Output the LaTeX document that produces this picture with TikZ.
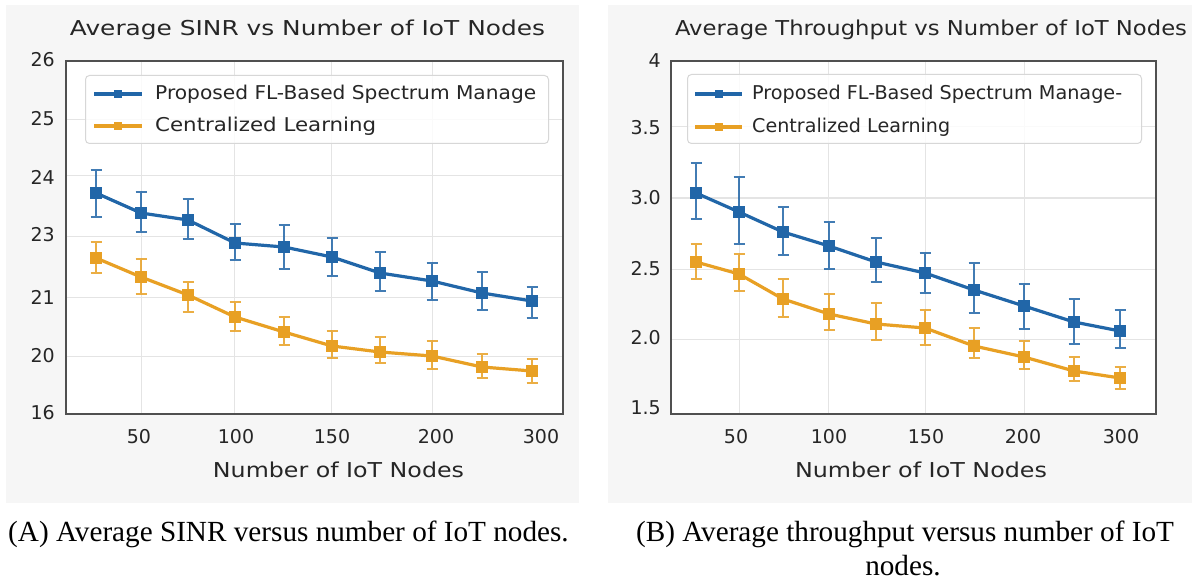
\documentclass[tikz,border=0pt]{standalone}
\usepackage{fontspec}
\usepackage{graphicx}
\setmainfont{Liberation Serif}
\newfontfamily\plotfont{DejaVu Sans}

\definecolor{flblue}{RGB}{33,102,168}
\definecolor{clorange}{RGB}{232,160,36}
\definecolor{panelbg}{RGB}{246,246,246}
\definecolor{gridgray}{RGB}{228,228,228}
\definecolor{framegray}{RGB}{80,80,80}
\definecolor{legendgray}{RGB}{215,215,215}
\definecolor{inkgray}{RGB}{38,38,38}

% stretch a text horizontally to a given width, keeping its height
\newcommand{\fitto}[2]{\resizebox{#1}{\height}{#2}}

\begin{document}
\begin{tikzpicture}[x=1pt,y=-1pt,
  panel/.style={fill=panelbg,draw=none},
  plotarea/.style={fill=white,draw=none},
  axisframe/.style={draw=framegray,line width=1.6pt},
  gridline/.style={draw=gridgray,line width=1pt},
  ticklabel/.style={font=\plotfont\fontsize{19}{22}\selectfont,text=inkgray,inner sep=0pt},
  plottitle/.style={font=\plotfont\fontsize{20.5}{24}\selectfont,text=inkgray,inner sep=0pt},
  axistitle/.style={font=\plotfont\fontsize{20.5}{24}\selectfont,text=inkgray,inner sep=0pt},
  legendtext/.style={font=\plotfont\fontsize{19}{22}\selectfont,text=inkgray,inner sep=0pt,anchor=west},
  legendbox/.style={draw=legendgray,fill=white,fill opacity=0.85,line width=1pt,rounded corners=4pt},
  caption/.style={font=\fontsize{29.2}{34}\selectfont,text=black,inner sep=0pt},
  dataline/.style={line width=3.2pt,line join=round},
  errbar/.style={line width=1.8pt,opacity=0.85},
  marker/.style={rectangle,minimum size=12pt,inner sep=0pt,draw=none},
]
\useasboundingbox (0,0) rectangle (1192,583);
\fill[white] (0,0) rectangle (1192,583);

% ---------------- panel backgrounds ----------------
\fill[panel] (6,5) rectangle (579,503);
\fill[panel] (608,5) rectangle (1192,503);
\fill[plotarea] (66,61) rectangle (563,414);
\fill[plotarea] (671,61) rectangle (1156,414);

% ---------------- left panel: SINR ----------------
\foreach \gx in {141,234,331,432} \draw[gridline] (\gx,61) -- (\gx,414);
\foreach \gy in {120,176,236,297,356} \draw[gridline] (66,\gy) -- (563,\gy);
\draw[axisframe] (66,61) rectangle (563,414);

\node[plottitle] (titleA) at (307.5,30) {\fitto{475pt}{Average SINR vs Number of IoT Nodes}};

\foreach \lab/\ty [count=\k] in {26/60,25/119,24/177,23/235,21/297,20/356,16/413}
  \node[ticklabel,anchor=east] (ytA\k) at (55,\ty) {\lab};
\foreach \lab/\tx [count=\k] in {50/139,100/236,150/332,200/436,300/541}
  \node[ticklabel] (xtA\k) at (\tx,437) {\lab};
\node[axistitle] (xlabA) at (338.5,470) {\fitto{251pt}{Number of IoT Nodes}};

% legend
\node[legendbox,minimum width=463pt,minimum height=68pt,anchor=north west] (legA) at (85,75) {};
\coordinate (legAb1) at (94,94);  \coordinate (legAb2) at (142,94);
\coordinate (legAo1) at (94,126); \coordinate (legAo2) at (142,126);
\draw[dataline,flblue] (legAb1) -- (legAb2);
\node[marker,fill=flblue,minimum size=8pt] (legAbm) at (118,94) {};
\draw[dataline,clorange] (legAo1) -- (legAo2);
\node[marker,fill=clorange,minimum size=8pt] (legAom) at (118,126) {};
\node[legendtext] (legAbt) at (155,94) {\fitto{381pt}{Proposed FL-Based Spectrum Manage}};
\node[legendtext] (legAot) at (155,126) {\fitto{221pt}{Centralized Learning}};

% blue series (FL-based)
\foreach \px/\py/\pt/\pb [count=\i] in
  {96/193/170/217,141/213/192/232,188/220/199/239,235/243/224/260,284/247/225/269,
   332/257/238/276,380/273/252/291,432/281/263/300,482/293/272/310,532/301/287/318}{
  \coordinate (ba\i) at (\px,\py);
  \draw[errbar,flblue] ({\px-5.5},\pt) -- ({\px+5.5},\pt) (\px,\pt) -- (\px,\pb) ({\px-5.5},\pb) -- ({\px+5.5},\pb);
}
% orange series (centralized)
\foreach \px/\py/\pt/\pb [count=\i] in
  {96/258/242/273,141/277/259/294,188/295/282/312,235/317/302/331,284/332/317/345,
   332/346/331/358,380/352/337/363,432/356/341/369,482/367/354/378,532/371/359/383}{
  \coordinate (oa\i) at (\px,\py);
  \draw[errbar,clorange] ({\px-5.5},\pt) -- ({\px+5.5},\pt) (\px,\pt) -- (\px,\pb) ({\px-5.5},\pb) -- ({\px+5.5},\pb);
}
\draw[dataline,flblue] (ba1) \foreach \i in {2,...,10}{ -- (ba\i)};
\draw[dataline,clorange] (oa1) \foreach \i in {2,...,10}{ -- (oa\i)};
\foreach \i in {1,...,10}{
  \node[marker,fill=flblue] (mba\i) at (ba\i) {};
  \node[marker,fill=clorange] (moa\i) at (oa\i) {};
}

% ---------------- right panel: throughput ----------------
\foreach \gx in {739,828,925,1024} \draw[gridline] (\gx,61) -- (\gx,414);
\foreach \gy in {127,198,269,339} \draw[gridline] (671,\gy) -- (1156,\gy);
\draw[axisframe] (671,61) rectangle (1156,414);

\node[plottitle] (titleB) at (931,30) {\fitto{512pt}{Average Throughput vs Number of IoT Nodes}};

\foreach \lab/\ty [count=\k] in {4/61,3.5/128,3.0/198,2.5/269,2.0/338,1.5/408}
  \node[ticklabel,anchor=east] (ytB\k) at (661,\ty) {\lab};
\foreach \lab/\tx [count=\k] in {50/736,100/829,150/926,200/1023,300/1121}
  \node[ticklabel] (xtB\k) at (\tx,437) {\lab};
\node[axistitle] (xlabB) at (921,470) {\fitto{252pt}{Number of IoT Nodes}};

% legend
\node[legendbox,minimum width=454pt,minimum height=69pt,anchor=north west] (legB) at (687,74) {};
\coordinate (legBb1) at (695,94);  \coordinate (legBb2) at (742,94);
\coordinate (legBo1) at (695,127); \coordinate (legBo2) at (742,127);
\draw[dataline,flblue] (legBb1) -- (legBb2);
\node[marker,fill=flblue,minimum size=8pt] (legBbm) at (719,94) {};
\draw[dataline,clorange] (legBo1) -- (legBo2);
\node[marker,fill=clorange,minimum size=8pt] (legBom) at (719,127) {};
\node[legendtext] (legBbt) at (752,94) {\fitto{370pt}{Proposed FL-Based Spectrum Manage-}};
\node[legendtext] (legBot) at (752,127) {\fitto{198pt}{Centralized Learning}};

% blue series (FL-based)
\foreach \px/\py/\pt/\pb [count=\i] in
  {696/193/163/219,739/212/177/244,783/232/207/255,829/246/222/269,876/262/238/282,
   925/273/253/293,974/290/263/313,1024/306/284/329,1074/322/299/344,1120/331/310/348}{
  \coordinate (bb\i) at (\px,\py);
  \draw[errbar,flblue] ({\px-5.5},\pt) -- ({\px+5.5},\pt) (\px,\pt) -- (\px,\pb) ({\px-5.5},\pb) -- ({\px+5.5},\pb);
}
% orange series (centralized)
\foreach \px/\py/\pt/\pb [count=\i] in
  {696/262/244/279,739/274/254/291,783/299/279/317,829/314/294/330,876/324/303/340,
   925/328/310/345,974/346/328/358,1024/357/341/369,1074/371/357/381,1120/378/367/389}{
  \coordinate (ob\i) at (\px,\py);
  \draw[errbar,clorange] ({\px-5.5},\pt) -- ({\px+5.5},\pt) (\px,\pt) -- (\px,\pb) ({\px-5.5},\pb) -- ({\px+5.5},\pb);
}
\draw[dataline,flblue] (bb1) \foreach \i in {2,...,10}{ -- (bb\i)};
\draw[dataline,clorange] (ob1) \foreach \i in {2,...,10}{ -- (ob\i)};
\foreach \i in {1,...,10}{
  \node[marker,fill=flblue] (mbb\i) at (bb\i) {};
  \node[marker,fill=clorange] (mob\i) at (ob\i) {};
}

% ---------------- captions ----------------
\node[caption,anchor=base west] (capA) at (8,541) {(A) Average SINR versus number of IoT nodes.};
\node[caption,anchor=base] (capB1) at (905,541) {(B) Average throughput versus number of IoT};
\node[caption,anchor=base] (capB2) at (903,575) {nodes.};
\end{tikzpicture}
\end{document}
